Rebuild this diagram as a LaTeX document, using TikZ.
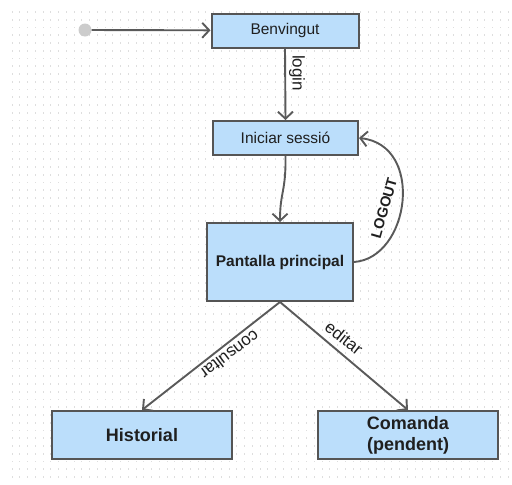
\documentclass[tikz,border=0pt]{standalone}
\usepackage{fontspec}
\setmainfont{Liberation Sans}
\usetikzlibrary{arrows.meta}
\definecolor{boxfill}{RGB}{187,222,251}
\definecolor{boxline}{RGB}{85,85,85}
\definecolor{edgeline}{RGB}{90,90,90}
\definecolor{griddot}{RGB}{222,222,222}
\definecolor{startdot}{RGB}{204,204,204}
\tikzset{
  statebox/.style={draw=boxline, line width=2pt, fill=boxfill, inner sep=0pt,
    align=center, text=black!88},
  smalltext/.style={font=\fontsize{15.5}{18}\selectfont},
  bigtext/.style={font=\bfseries\fontsize{18}{21}\selectfont},
  arr/.style={draw=edgeline, line width=1.9pt,
    -{Straight Barb[length=7pt,width=15pt,line width=1.9pt]}},
  edgelabel/.style={inner sep=1pt, text=black!88, font=\fontsize{17}{20}\selectfont}
}
\begin{document}
\begin{tikzpicture}[x=1pt,y=-1pt]
  \useasboundingbox (0,0) rectangle (512,485);
  \fill[white] (0,0) rectangle (512,485);
  % dotted background grid
  \foreach \i in {0,...,64}{
    \foreach \j in {0,...,60}{
      \fill[griddot] ({12+\i*7.75-0.5},{12+\j*7.75-0.9}) rectangle ++(1,1.8);
    }
  }
  % states
  \node[circle, fill=startdot, minimum size=13pt, inner sep=0pt] (start) at (85,30) {};
  \node[statebox, smalltext, minimum width=147pt, minimum height=34pt] (ben) at (285,30.5) {Benvingut};
  \node[statebox, smalltext, minimum width=145pt, minimum height=34pt] (ini) at (285.5,138) {Iniciar sessió};
  \node[statebox, font=\bfseries\fontsize{15.5}{18}\selectfont, minimum width=146pt, minimum height=78pt] (pan) at (280,262) {Pantalla principal};
  \node[statebox, bigtext, minimum width=180pt, minimum height=48pt] (his) at (142,435) {Historial};
  \node[statebox, bigtext, minimum width=180pt, minimum height=48pt] (com) at (408,435) {Comanda\\(pendent)};
  % transitions
  \draw[arr] (start) -- (ben);
  \draw[arr] (ben.south) -- (ini.north);
  \draw[arr] (ini.south) .. controls (286,192) and (280,192) .. (pan.north);
  \draw[arr] (pan.east) .. controls (410,258) and (425,145) .. (ini.east);
  \draw[arr] (pan.south) -- (his.north);
  \draw[arr] (pan.south) -- (com.north);
  % transition labels
  \node[edgelabel, rotate=-90] (llogin) at (297,73) {login};
  \node[edgelabel, rotate=74, font=\bfseries\fontsize{14.5}{17}\selectfont] (llogout) at (384,208) {LOGOUT};
  \node[edgelabel, rotate=217] (lcons) at (230,355) {consultar};
  \node[edgelabel, rotate=-38] (ledit) at (344,338) {editar};
\end{tikzpicture}
\end{document}
